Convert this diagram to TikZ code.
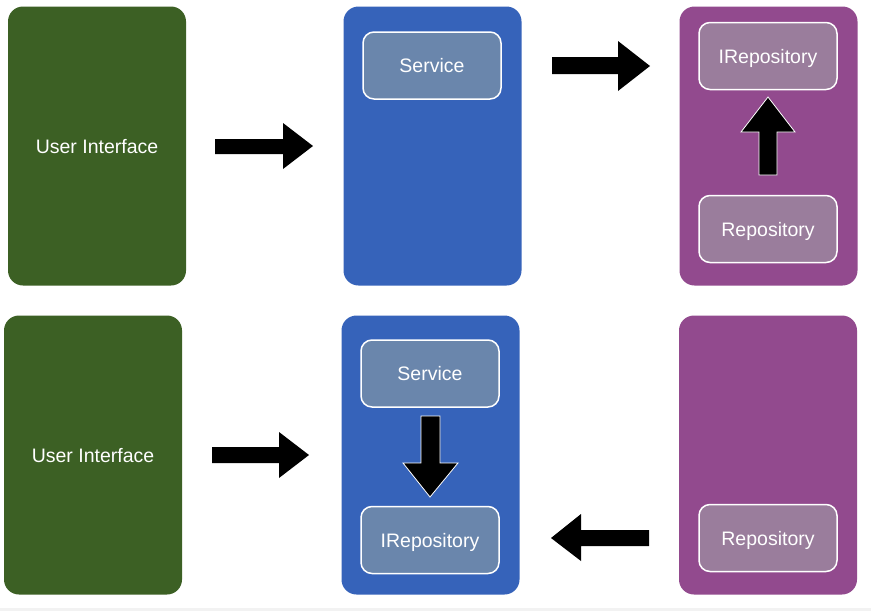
\documentclass[tikz,border=0pt]{standalone}
\usepackage{fontspec}
\setmainfont{Liberation Sans}
\definecolor{uigreen}{HTML}{3C6024}
\definecolor{svblue}{HTML}{3663BA}
\definecolor{repurple}{HTML}{924A8E}
\definecolor{innerblue}{HTML}{6A86AC}
\definecolor{innerpurple}{HTML}{9A7D9C}
\definecolor{stripgray}{HTML}{F2F2F2}
\tikzset{
  outerbox/.style={rounded corners=15pt, inner sep=0pt, outer sep=0pt,
    minimum width=178pt, minimum height=279pt, text=white,
    text height=14pt, text depth=0pt,
    font=\fontsize{19.5}{22}\selectfont},
  innerbox/.style={draw=white, line width=1.5pt, rounded corners=11pt,
    inner sep=0pt, outer sep=0pt, minimum width=138pt, minimum height=67pt,
    text height=14pt, text depth=0pt,
    text=white, font=\fontsize{19.5}{22}\selectfont},
  blockarrow/.style={fill=black},
  blockarroww/.style={fill=black, draw=white, line width=0.8pt}
}
\begin{document}
\begin{tikzpicture}[x=1pt, y=-1pt]
\useasboundingbox (0,0) rectangle (871,611);
\fill[white] (0,0) rectangle (871,611);
\fill[stripgray] (0,608) rectangle (871,611);
% top row
\node[outerbox, fill=uigreen] (ui1) at (97,146) {User Interface};
\node[outerbox, fill=svblue] (sv1) at (432.5,146) {};
\node[outerbox, fill=repurple] (rp1) at (768.5,146) {};
\node[innerbox, fill=innerblue] (service1) at (432,65.5) {Service};
\node[innerbox, fill=innerpurple] (irepo1) at (768,56) {IRepository};
\node[innerbox, fill=innerpurple] (repo1) at (768,229) {Repository};
% bottom row
\node[outerbox, fill=uigreen] (ui2) at (93,455) {User Interface};
\node[outerbox, fill=svblue] (sv2) at (430.5,455) {};
\node[outerbox, fill=repurple] (rp2) at (768,455) {};
\node[innerbox, fill=innerblue] (service2) at (430,373.5) {Service};
\node[innerbox, fill=innerblue] (irepo2) at (430,540) {IRepository};
\node[innerbox, fill=innerpurple] (repo2) at (768,538) {Repository};
% arrows top
\fill[blockarrow] (215,139)--(283,139)--(283,123)--(313,146)--(283,169)--(283,154)--(215,154)--cycle;
\fill[blockarrow] (552,57)--(618,57)--(618,41)--(650,66)--(618,91)--(618,74)--(552,74)--cycle;
\filldraw[blockarroww] (759,175)--(759,132)--(741,132)--(768,97)--(795,132)--(777,132)--(777,175)--cycle;
% arrows bottom
\fill[blockarrow] (212,447)--(279,447)--(279,432)--(309,455)--(279,478)--(279,463)--(212,463)--cycle;
\filldraw[blockarroww] (421,416)--(440,416)--(440,463)--(458,463)--(430,497)--(403,463)--(421,463)--cycle;
\fill[blockarrow] (649,530)--(581,530)--(581,514)--(551,538)--(581,561)--(581,546)--(649,546)--cycle;
\end{tikzpicture}
\end{document}
